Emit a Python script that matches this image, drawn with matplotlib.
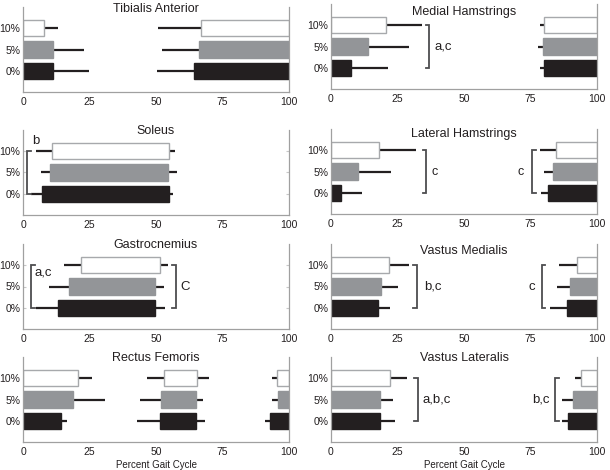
import matplotlib
matplotlib.use("Agg")
import matplotlib.pyplot as plt

plt.rcParams['font.family'] = ['Liberation Sans', 'DejaVu Sans']

# ---------------- data ----------------
levels = ['0%', '5%', '10%']
xticks = [0, 25, 50, 75, 100]
xlabel = 'Percent Gait Cycle'

muscles = ['Tibialis Anterior', 'Medial Hamstrings', 'Soleus', 'Lateral Hamstrings',
           'Gastrocnemius', 'Vastus Medialis', 'Rectus Femoris', 'Vastus Lateralis']

# per level (0%, 5%, 10%): burst onsets, offsets, onset SD, offset SD
ta_on = [[0, 64.2], [0, 66.3], [0, 66.9]]
ta_off = [[11.3, 100], [11.1, 100], [7.9, 100]]
ta_on_sd = [[0, 13.8], [0, 14.2], [0, 16.1]]
ta_off_sd = [[13.6, 0], [11.9, 0], [5.1, 0]]

mh_on = [[0, 80.2], [0, 79.7], [0, 80.2]]
mh_off = [[7.6, 100], [14.0, 100], [20.6, 100]]
mh_on_sd = [[0, 1.8], [0, 1.8], [0, 1.5]]
mh_off_sd = [[13.8, 0], [15.3, 0], [13.5, 0]]

sol_on = [[7.1], [10.3], [10.9]]
sol_off = [[54.8], [54.5], [54.8]]
sol_on_sd = [[4.0], [3.4], [5.9]]
sol_off_sd = [[1.6], [3.4], [2.2]]

lh_on = [[0, 81.5], [0, 83.6], [0, 84.5]]
lh_off = [[3.8, 100], [10.3, 100], [18.0, 100]]
lh_on_sd = [[0, 2.6], [0, 3.4], [0, 5.8]]
lh_off_sd = [[7.7, 0], [12.1, 0], [14.0, 0]]

gas_on = [[13.0], [17.4], [21.8]]
gas_off = [[49.5], [49.5], [51.4]]
gas_on_sd = [[8.0], [7.8], [6.3]]
gas_off_sd = [[3.8], [3.4], [3.1]]

vm_on = [[0, 88.7], [0, 89.7], [0, 92.5]]
vm_off = [[17.5, 100], [18.8, 100], [21.9, 100]]
vm_on_sd = [[0, 6.2], [0, 4.7], [0, 6.7]]
vm_off_sd = [[4.8, 0], [6.5, 0], [7.5, 0]]

rf_on = [[0, 51.5, 92.9], [0, 51.9, 95.9], [0, 53.1, 95.6]]
rf_off = [[14.4, 65.2, 100], [18.8, 65.2, 100], [20.7, 65.5, 100]]
rf_on_sd = [[0, 8.5, 2.0], [0, 8.0, 2.2], [0, 6.4, 1.9]]
rf_off_sd = [[2.1, 3.3, 0], [12.0, 2.5, 0], [5.2, 4.4, 0]]

vl_on = [[0, 89.0], [0, 90.9], [0, 94.0]]
vl_off = [[18.4, 100], [18.5, 100], [22.2, 100]]
vl_on_sd = [[0, 2.2], [0, 4.1], [0, 2.3]]
vl_off_sd = [[5.7, 0], [4.7, 0], [6.4, 0]]

data = [
    (ta_on, ta_off, ta_on_sd, ta_off_sd),
    (mh_on, mh_off, mh_on_sd, mh_off_sd),
    (sol_on, sol_off, sol_on_sd, sol_off_sd),
    (lh_on, lh_off, lh_on_sd, lh_off_sd),
    (gas_on, gas_off, gas_on_sd, gas_off_sd),
    (vm_on, vm_off, vm_on_sd, vm_off_sd),
    (rf_on, rf_off, rf_on_sd, rf_off_sd),
    (vl_on, vl_off, vl_on_sd, vl_off_sd),
]

# significance brackets: (x of bracket, tick direction, label, label x, label y, ha, size)
annotations = [
    [],
    [(37.0, -1, 'a,c', 39.0, 1.0, 'left', 9.5)],
    [(1.5, 1, 'b', 3.3, 2.45, 'left', 9.5)],
    [(35.8, -1, 'c', 37.6, 1.0, 'left', 9), (75.7, 1, 'c', 72.6, 1.0, 'right', 9)],
    [(3.0, 1, 'a,c', 4.3, 1.65, 'left', 9.5), (57.6, -1, 'C', 59.2, 1.0, 'left', 9.5)],
    [(32.3, -1, 'b,c', 35.0, 1.0, 'left', 9.5), (79.2, 1, 'c', 75.4, 1.0, 'center', 9.5)],
    [],
    [(32.6, -1, 'a,b,c', 34.4, 1.0, 'left', 9.5), (84.2, 1, 'b,c', 78.8, 1.0, 'center', 9.5)],
]

# ---------------- style / layout ----------------
W, H = 610, 470
fills = ['#231f20', '#939598', '#ffffff']
edges = ['#231f20', '#939598', '#a7a9ac']
dark = '#231f20'
spine_c = '#a0a0a0'

col_x = [(23, 289), (331, 597)]
row_bottom = [[92, 215, 329, 442], [89, 214, 329, 442]]
title_y = [[9, 131, 245, 358], [12, 134, 251, 358]]
ax_h = 85
ylo, yhi = -0.95, 2.95

fig = plt.figure(figsize=(6.1, 4.7), dpi=100)

for i, name in enumerate(muscles):
    r, c = divmod(i, 2)
    x0, x1 = col_x[c]
    b = row_bottom[c][r]
    ax = fig.add_axes([x0 / W, 1 - b / H, (x1 - x0) / W, ax_h / H])
    on, off, on_sd, off_sd = data[i]
    for lv in range(3):
        for s, e, ssd, esd in zip(on[lv], off[lv], on_sd[lv], off_sd[lv]):
            if ssd > 0:
                ax.hlines(lv, s - ssd, s, color=dark, lw=1.6, zorder=1)
            if esd > 0:
                ax.hlines(lv, e, e + esd, color=dark, lw=1.6, zorder=1)
            ax.barh(lv, e - s, left=s, height=0.74, color=fills[lv],
                    edgecolor=edges[lv], linewidth=1.0, zorder=2)
    for bx, d, lab, lx, ly, ha, fs in annotations[i]:
        ax.plot([bx + d * 1.4, bx, bx, bx + d * 1.4], [2, 2, 0, 0],
                color='#4d4d4f', lw=1.3, solid_joinstyle='miter', zorder=3)
        ax.text(lx, ly, lab, ha=ha, va='center', fontsize=fs, color=dark)
    ax.set_xlim(0, 100)
    ax.set_ylim(ylo, yhi)
    ax.set_xticks(xticks)
    ax.set_xticklabels([str(t) for t in xticks], fontsize=7.5, color=dark)
    ax.set_yticks([0, 1, 2])
    ax.set_yticklabels(levels, fontsize=7.5, color=dark)
    ax.tick_params(axis='y', direction='in', length=2, color='#c8c8c8',
                   right=True, pad=2)
    ax.tick_params(axis='x', length=0, pad=3.5)
    ax.spines['top'].set_visible(False)
    for sp in ['left', 'right', 'bottom']:
        ax.spines[sp].set_color(spine_c)
        ax.spines[sp].set_linewidth(0.9)
    ty = (b - title_y[c][r]) / ax_h
    ax.text(0.5, ty, name, transform=ax.transAxes, ha='center', va='center',
            fontsize=9, color=dark)
    if r == 3:
        ax.set_xlabel(xlabel, fontsize=7, color=dark, labelpad=2)

fig.savefig('out.png', dpi=100)
